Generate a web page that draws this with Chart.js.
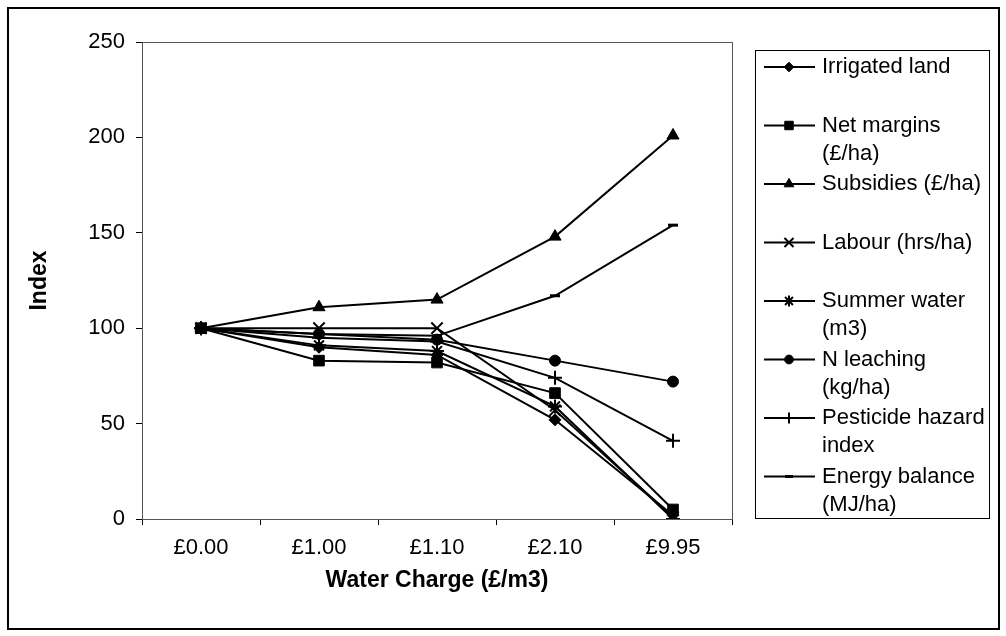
<!DOCTYPE html>
<html>
<head>
<meta charset="utf-8">
<script src="https://cdn.jsdelivr.net/npm/chart.js"></script>
<style>
  body { margin: 0; background: #fff; }
  #wrap { width: 1006px; height: 636px; }
</style>
</head>
<body>
<div id="wrap"><canvas id="myChart" width="1006" height="636"></canvas></div>
<script>
// water charge scenarios
const categories = ['£0.00', '£1.00', '£1.10', '£2.10', '£9.95'];

// index values (base = 100)
const irrigatedLand   = [100, 90, 86, 52, 2];
const netMargins      = [100, 83, 82, 66, 5];
const subsidies       = [100, 111, 115, 148, 201];
const labour          = [100, 100, 100, 57, 1];
const summerWater     = [100, 91, 88, 59, 0];
const nLeaching       = [100, 97, 94, 83, 72];
const pesticideHazard = [100, 95, 93, 74, 41];
const energyBalance   = [100, 97, 96, 117, 154];

const seriesNames = ['Irrigated land', 'Net margins (£/ha)', 'Subsidies (£/ha)', 'Labour (hrs/ha)',
  'Summer water (m3)', 'N leaching (kg/ha)', 'Pesticide hazard index', 'Energy balance (MJ/ha)'];
const seriesValues = [irrigatedLand, netMargins, subsidies, labour, summerWater, nLeaching, pesticideHazard, energyBalance];

const yTicks = [0, 50, 100, 150, 200, 250];

const FONT = "'Liberation Sans', Arial, sans-serif";
const markers = [
  { style: 'rectRot', r: 6, bw: 1 },
  { style: 'rect', r: 7.5, bw: 1 },
  { style: 'triangle', r: 7, bw: 1 },
  { style: 'crossRot', r: 8, bw: 2 },
  { style: 'star', r: 7, bw: 2 },
  { style: 'circle', r: 5.5, bw: 1 },
  { style: 'cross', r: 7, bw: 2 },
  { style: 'line', r: 5, bw: 3 }
];

const datasets = seriesValues.map((vals, i) => ({
  label: seriesNames[i],
  data: vals,
  borderColor: '#000',
  backgroundColor: '#000',
  borderWidth: 2,
  pointStyle: markers[i].style,
  pointRadius: markers[i].r,
  pointBorderWidth: markers[i].bw,
  pointBackgroundColor: '#000',
  pointBorderColor: '#000',
  tension: 0
}));

// frame, plot border and the boxed legend on the right
const decorPlugin = {
  id: 'decor',
  beforeDraw(chart) {
    const ctx = chart.ctx;
    ctx.save();
    ctx.fillStyle = '#fff';
    ctx.fillRect(0, 0, chart.width, chart.height);
    ctx.strokeStyle = '#000';
    ctx.lineWidth = 2;
    ctx.strokeRect(8, 8, 991, 621);
    ctx.restore();
  },
  afterDraw(chart) {
    const ctx = chart.ctx;
    const a = chart.chartArea;
    ctx.save();
    ctx.strokeStyle = '#555';
    ctx.lineWidth = 1;
    ctx.strokeRect(a.left + 0.5, a.top + 0.5, a.right - a.left, a.bottom - a.top);

    // legend
    ctx.strokeStyle = '#000';
    ctx.strokeRect(755.5, 50.5, 234, 468);
    ctx.font = '22px ' + FONT;
    ctx.fillStyle = '#000';
    ctx.textBaseline = 'middle';
    ctx.textAlign = 'left';
    seriesNames.forEach((name, i) => {
      const y = 67 + i * 58.5;
      // wrap text to fit the box
      const words = name.split(' ');
      const lines = [];
      let cur = '';
      words.forEach(w => {
        const test = cur ? cur + ' ' + w : w;
        if (ctx.measureText(test).width > 166 && cur) {
          lines.push(cur);
          cur = w;
        } else {
          cur = test;
        }
      });
      lines.push(cur);
      lines.forEach((ln, k) => ctx.fillText(ln, 822, y + k * 28));

      ctx.strokeStyle = '#000';
      ctx.lineWidth = 2;
      ctx.beginPath();
      ctx.moveTo(764, y);
      ctx.lineTo(815, y);
      ctx.stroke();
      const m = markers[i];
      ctx.fillStyle = '#000';
      ctx.lineWidth = m.bw;
      if (Chart.helpers && Chart.helpers.drawPoint) {
        Chart.helpers.drawPoint(ctx, { pointStyle: m.style, radius: m.r * 0.8, borderWidth: m.bw, rotation: 0 }, 789, y);
      }
    });
    ctx.restore();
  }
};

function createChart() {
  const ctx = document.getElementById('myChart').getContext('2d');
  new Chart(ctx, {
    type: 'line',
    data: { labels: categories, datasets: datasets },
    options: {
      responsive: false,
      animation: false,
      layout: { padding: { left: 0, top: 42, right: 274, bottom: 0 } },
      plugins: { legend: { display: false }, tooltip: { enabled: false } },
      scales: {
        x: {
          offset: true,
          grid: { offset: true, drawOnChartArea: false, tickLength: 6, color: '#000' },
          border: { color: '#000', width: 1 },
          ticks: { color: '#000', font: { family: FONT, size: 22 }, padding: 10, maxRotation: 0 },
          title: { display: true, text: 'Water Charge (£/m3)', color: '#000',
                   font: { family: FONT, size: 23, weight: 'bold' }, padding: { top: 0, bottom: 42 } },
          afterFit(scale) { scale.height = 117; }
        },
        y: {
          min: 0,
          max: 250,
          afterBuildTicks(scale) { scale.ticks = yTicks.map(v => ({ value: v })); },
          grid: { drawOnChartArea: false, tickLength: 6, color: '#000' },
          border: { color: '#000', width: 1 },
          ticks: { color: '#000', font: { family: FONT, size: 22 }, padding: 11 },
          title: { display: true, text: 'Index', color: '#000',
                   font: { family: FONT, size: 23, weight: 'bold' }, padding: { top: 26, bottom: 0 } },
          afterFit(scale) { scale.width = 142; }
        }
      }
    },
    plugins: [decorPlugin]
  });
}

document.addEventListener('DOMContentLoaded', () => {
  createChart();
});
</script>
</body>
</html>
